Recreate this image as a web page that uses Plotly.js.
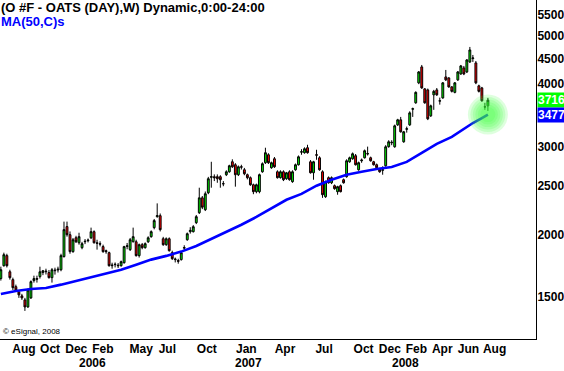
<!DOCTYPE html>
<html><head><meta charset="utf-8">
<script src="https://cdn.plot.ly/plotly-3.0.1.min.js"></script>
<style>html,body{margin:0;padding:0;background:#fff;}#chart{width:564px;height:371px;}</style>
</head><body><div id="chart"></div>
<script>
// Weekly bars, first week starting Monday 2005-07-04
const firstWeek = '2005-07-04';

const openP = [1634,1734,1816,1686,1626,1574,1536,1509,1481,1434,1495,1619,1634,1649,1680,1686,1680,1641,1694,1700,
1702,1808,2076,2000,1850,1972,1927,1884,1936,1945,1972,2028,1927,1919,1893,1858,1841,1734,1742,1738,
1734,1758,1895,1867,1936,1936,1816,1910,1884,1936,1982,2066,2173,2183,1963,1910,1963,1841,1783,1775,
1783,1880,1954,2028,2028,2114,2213,2370,2244,2426,2605,2612,2612,2612,2530,2636,2672,2798,2760,2636,
2734,2697,2636,2600,2517,2438,2438,2672,2786,2890,2722,2837,2672,2600,2672,2588,2672,2553,2697,2760,
2925,2917,2985,2798,2660,2890,2850,2672,2382,2600,2540,2506,2438,2506,2576,2612,2798,2837,2877,2697,
2811,2850,2900,2850,2798,2760,2709,2690,2747,3000,3054,2998,3317,3394,3068,3250,3317,3565,3671,4024,
4331,3914,3896,3457,3808,3896,3700,3755,4136,4117,3950,3852,4080,4193,4311,4232,4431,4500,4411,3969,
3932,3600,3620];
const highP = [1726,1841,1832,1702,1641,1589,1550,1523,1495,1560,1620,1656,1656,1726,1700,1710,1700,1715,1718,1726,
1832,2124,2124,2030,1970,1990,2018,1935,1960,1965,2066,2040,1954,1940,1910,1867,1850,1758,1760,1755,
1775,1900,1925,1970,2066,1954,1920,1925,1930,1985,2040,2150,2310,2205,1980,1975,1975,1858,1800,1790,
1850,1905,2020,2070,2090,2190,2483,2390,2440,2610,2798,2640,2640,2630,2560,2690,2760,2830,2780,2750,
2760,2720,2650,2615,2530,2530,2650,2790,2985,2910,2800,2860,2690,2690,2690,2670,2690,2690,2775,2880,
2965,2990,3026,2820,2810,2957,2870,2690,2565,2615,2615,2520,2505,2520,2590,2830,2865,2920,2900,2800,
2840,2960,3000,2865,2810,2775,2720,2740,3020,3090,3090,3320,3410,3440,3225,3290,3530,3590,3870,4250,
4370,3930,3920,3640,3896,3930,3760,4040,4271,4130,3965,4040,4250,4370,4350,4490,4748,4576,4450,3990,
3950,3670,3755];
const lowP = [1619,1726,1720,1626,1550,1536,1495,1481,1408,1428,1488,1604,1604,1634,1660,1665,1634,1604,1664,1680,
1690,1800,1982,1832,1840,1925,1910,1870,1915,1930,1960,1920,1867,1895,1840,1832,1726,1710,1720,1715,
1726,1750,1870,1855,1930,1808,1800,1870,1875,1925,1972,2050,2163,2030,1900,1900,1850,1780,1760,1750,
1775,1860,1945,2010,2020,2100,2200,2250,2230,2410,2483,2560,2540,2483,2500,2620,2660,2720,2495,2620,
2700,2630,2580,2505,2410,2420,2420,2660,2770,2770,2710,2720,2590,2590,2560,2575,2565,2540,2685,2750,
2890,2905,2905,2650,2576,2824,2685,2370,2370,2530,2525,2460,2404,2430,2530,2600,2785,2825,2750,2685,
2785,2840,2880,2800,2750,2710,2660,2636,2735,2985,3020,2985,3300,3200,3054,3200,3300,3440,3655,4000,
3915,3655,3390,3440,3554,3790,3640,3740,4060,3935,3850,3835,4060,4175,4170,4210,4410,4431,4000,3850,
3690,3554,3537];
const closeP = [1702,1824,1734,1641,1567,1550,1516,1495,1434,1550,1611,1634,1630,1686,1694,1690,1641,1702,1698,1706,
1816,2047,2000,1850,1954,1936,1982,1919,1940,1950,2028,1927,1922,1915,1850,1850,1734,1738,1745,1734,
1766,1893,1900,1954,1982,1816,1910,1884,1919,1972,2028,2134,2183,2047,1910,1963,1858,1791,1787,1770,
1841,1884,2009,2040,2075,2173,2370,2270,2415,2588,2612,2600,2588,2576,2528,2672,2747,2734,2636,2734,
2730,2648,2600,2517,2438,2517,2636,2773,2917,2786,2786,2734,2600,2672,2576,2660,2576,2672,2760,2863,
2930,2971,2917,2660,2798,2885,2697,2404,2552,2540,2600,2472,2495,2438,2540,2811,2850,2903,2760,2786,
2820,2944,2905,2811,2760,2722,2672,2697,2998,3068,3060,3302,3394,3212,3212,3257,3505,3571,3852,4232,
3932,3671,3410,3620,3870,3808,3705,4024,4080,3950,3870,4024,4232,4351,4193,4472,4683,4513,4024,3870,
3705,3604,3716];

// MA(50) at selected bars
const maBarIndex = [0,5,10,15,20,25,30,35,40,45,50,55,60,65,70,75,80,85,90,95,100,105,110,115,120,125,130,135,140,145,150,155,157,160,162];
const maValues = [1522,1543,1557,1565,1589,1616,1646,1677,1702,1742,1783,1814,1850,1898,1961,2025,2094,2170,2262,2349,2413,2506,2576,2636,2672,2707,2732,2796,2914,3039,3138,3284,3345,3422,3477];

// Axis labels
const monthTickDates = ['2005-08-01','2005-10-01','2005-12-01','2006-02-01','2006-05-01','2006-07-01','2006-10-01','2007-01-01','2007-04-01','2007-07-01','2007-10-01','2007-12-01','2008-02-01','2008-04-01','2008-06-01','2008-08-01'];
const monthTickText = ['Aug','Oct','Dec','Feb','May','Jul','Oct','Jan','Apr','Jul','Oct','Dec','Feb','Apr','Jun','Aug'];
const yearLabelDates = ['2006-01-01','2007-01-01','2008-01-01'];
const yearLabelText = ['2006','2007','2008'];
const priceTicks = [1500,2000,2500,3000,4000,4500,5000,5500];

const titleText = '(O #F - OATS (DAY),W) Dynamic,0:00-24:00';
const maText = 'MA(50,C)s';
const copyText = '\u00a9 eSignal, 2008';

// glow rings (px sizes, drawn at the last MA point)
const glowSizes = [40, 35, 30, 25, 20, 15];

// weekly dates
const dates = [];
(function(){
  const d0 = new Date(firstWeek + 'T00:00:00Z').getTime();
  for (let i = 0; i < openP.length; i++) {
    dates.push(new Date(d0 + i * 7 * 86400000).toISOString().slice(0, 10));
  }
})();
const last = openP.length - 1;
const maDates = maBarIndex.map(i => dates[i]);
const lastMA = maValues[maValues.length - 1];

const FONT = 'Liberation Sans, Arial, Helvetica, sans-serif';

const traces = [
  {
    type: 'candlestick', x: dates, open: openP, high: highP, low: lowP, close: closeP,
    increasing: {line: {color: '#000000', width: 1}, fillcolor: '#00f000'},
    decreasing: {line: {color: '#000000', width: 1}, fillcolor: '#ff0000'},
    whiskerwidth: 0, hoverinfo: 'skip', showlegend: false
  },
  {
    type: 'scatter', mode: 'lines', x: maDates, y: maValues,
    line: {color: '#0000ff', width: 2.6}, hoverinfo: 'skip', showlegend: false
  },
  {
    type: 'scatter', mode: 'markers',
    x: glowSizes.map(() => dates[last]), y: glowSizes.map(() => lastMA),
    marker: {size: glowSizes, color: '#3cff3c', opacity: 0.17, line: {width: 0}},
    hoverinfo: 'skip', showlegend: false
  }
];

const yearAnnotations = yearLabelDates.map((d, k) => ({
  xref: 'x', yref: 'paper', x: d, y: 0, xanchor: 'left', yanchor: 'top', xshift: -2, yshift: -15,
  text: yearLabelText[k], showarrow: false,
  font: {family: FONT, size: 12, weight: 'bold', color: '#000'}
}));

const layout = {
  width: 564, height: 371,
  margin: {l: 0, r: 28, t: 0, b: 32, pad: 0},
  paper_bgcolor: '#ffffff', plot_bgcolor: '#ffffff',
  showlegend: false, boxgap: 0.12,
  font: {family: FONT, size: 12, color: '#000000'},
  xaxis: {
    type: 'date', range: ['2005-07-02', '2008-12-01'],
    rangeslider: {visible: false}, showgrid: false, zeroline: false,
    showline: true, linecolor: '#000000', linewidth: 1, ticks: '',
    tickmode: 'array', tickvals: monthTickDates, ticktext: monthTickText,
    tickangle: 0,
    tickfont: {family: FONT, size: 12, weight: 'bold', color: '#000'},
    ticklabelshift: 11, ticklabelstandoff: -1, fixedrange: true
  },
  yaxis: {
    type: 'log', side: 'right', range: [3.0924, 3.7704],
    showgrid: false, zeroline: false, showline: true, linecolor: '#000000', linewidth: 1,
    ticks: '', tickmode: 'array', tickvals: priceTicks, ticktext: priceTicks.map(String),
    tickfont: {family: FONT, size: 12, weight: 'bold', color: '#000'},
    ticklabelstandoff: -2, fixedrange: true
  },
  annotations: [
    {xref: 'paper', yref: 'paper', x: 0, y: 1, xanchor: 'left', yanchor: 'top', xshift: -1, yshift: 2,
     text: titleText, showarrow: false, font: {family: FONT, size: 13, weight: 'bold', color: '#000'}},
    {xref: 'paper', yref: 'paper', x: 0, y: 1, xanchor: 'left', yanchor: 'top', xshift: -1, yshift: -12,
     text: maText, showarrow: false, font: {family: FONT, size: 13, weight: 'bold', color: '#0000ff'}},
    {xref: 'paper', yref: 'paper', x: 0, y: 0, xanchor: 'left', yanchor: 'bottom', xshift: 1, yshift: 1,
     text: copyText, showarrow: false, font: {family: FONT, size: 8, color: '#000'}},
    {xref: 'paper', yref: 'y', x: 1, y: Math.log10(closeP[last]), xanchor: 'left', yanchor: 'middle', xshift: 1,
     text: String(closeP[last]), showarrow: false, bgcolor: '#00ff00', borderpad: 0,
     font: {family: FONT, size: 12, weight: 'bold', color: '#ffffff'}},
    {xref: 'paper', yref: 'y', x: 1, y: Math.log10(lastMA), xanchor: 'left', yanchor: 'middle', xshift: 1,
     text: String(lastMA), showarrow: false, bgcolor: '#0000ff', borderpad: 0,
     font: {family: FONT, size: 12, weight: 'bold', color: '#ffffff'}}
  ].concat(yearAnnotations)
};

Plotly.newPlot('chart', traces, layout, {staticPlot: true, displayModeBar: false});
</script>
</body></html>
